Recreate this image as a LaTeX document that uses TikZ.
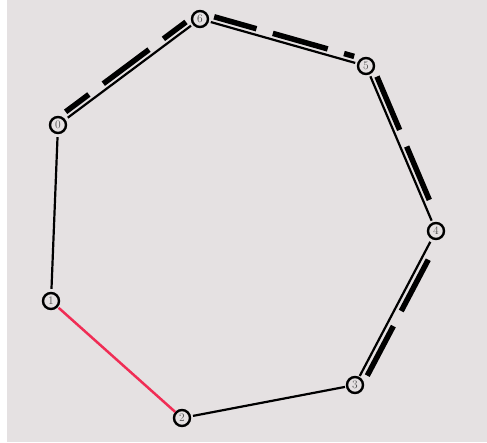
\documentclass[tikz,border=0pt]{standalone}
\usetikzlibrary{calc}
\definecolor{bggray}{RGB}{229,225,226}
\definecolor{edgered}{RGB}{240,45,85}
\definecolor{labelgray}{RGB}{80,80,80}
\begin{document}
\begin{tikzpicture}[x=1pt,y=-1pt,
  vtx/.style={circle,draw=black,line width=2.4pt,fill=bggray,minimum size=16pt,inner sep=0pt,
    text=labelgray,font=\fontsize{11.5}{12}\selectfont},
  thinedge/.style={draw=black,line width=2.2pt},
  rededge/.style={draw=edgered,line width=2.5pt},
  thickdash/.style={draw=black,line width=5.5pt}]
\useasboundingbox (0,0) rectangle (487,443);
\fill[white] (0,0) rectangle (487,443);
\fill[bggray] (7,0) rectangle (487,442);
% node positions
\coordinate (p0) at (58,125);
\coordinate (p6) at (200,19);
\coordinate (p5) at (366,66);
\coordinate (p4) at (436,231);
\coordinate (p3) at (355,385);
\coordinate (p2) at (182,418);
\coordinate (p1) at (51,301);
% offset dashed companions (outer side)
\draw[thickdash,dash pattern=on 57pt off 18pt,dash phase=28pt,shorten <=14pt,shorten >=13pt]
  ($(p0)!6pt!90:(p6)$) -- ($(p6)!6pt!-90:(p0)$);
\draw[thickdash,dash pattern=on 57pt off 17pt,dash phase=13pt,shorten <=13pt,shorten >=14pt]
  ($(p6)!6pt!90:(p5)$) -- ($(p5)!6pt!-90:(p6)$);
\draw[thickdash,dash pattern=on 58pt off 18pt on 58pt off 60pt,shorten <=14pt,shorten >=14pt]
  ($(p5)!6pt!90:(p4)$) -- ($(p4)!6pt!-90:(p5)$);
\draw[thickdash,dash pattern=on 58pt off 17pt,shorten <=29pt,shorten >=14pt]
  ($(p4)!6.5pt!90:(p3)$) -- ($(p3)!6.5pt!-90:(p4)$);
% nodes
\node[vtx] (n0) at (p0) {0};
\node[vtx] (n6) at (p6) {6};
\node[vtx] (n5) at (p5) {5};
\node[vtx] (n4) at (p4) {4};
\node[vtx] (n3) at (p3) {3};
\node[vtx] (n2) at (p2) {2};
\node[vtx] (n1) at (p1) {1};
% edges
\draw[thinedge,shorten <=3pt,shorten >=2pt] (n0) -- (n6);
\draw[thinedge,shorten <=2pt,shorten >=2pt] (n6) -- (n5);
\draw[thinedge,shorten <=2pt,shorten >=2pt] (n5) -- (n4);
\draw[thinedge,shorten <=3pt,shorten >=1pt] (n4) -- (n3);
\draw[thinedge,shorten <=1pt,shorten >=2pt] (n3) -- (n2);
\draw[rededge,shorten <=1pt,shorten >=0pt] (n1) -- (n2);
\draw[thinedge,shorten <=3pt,shorten >=3pt] (n0) -- (n1);
\end{tikzpicture}
\end{document}
